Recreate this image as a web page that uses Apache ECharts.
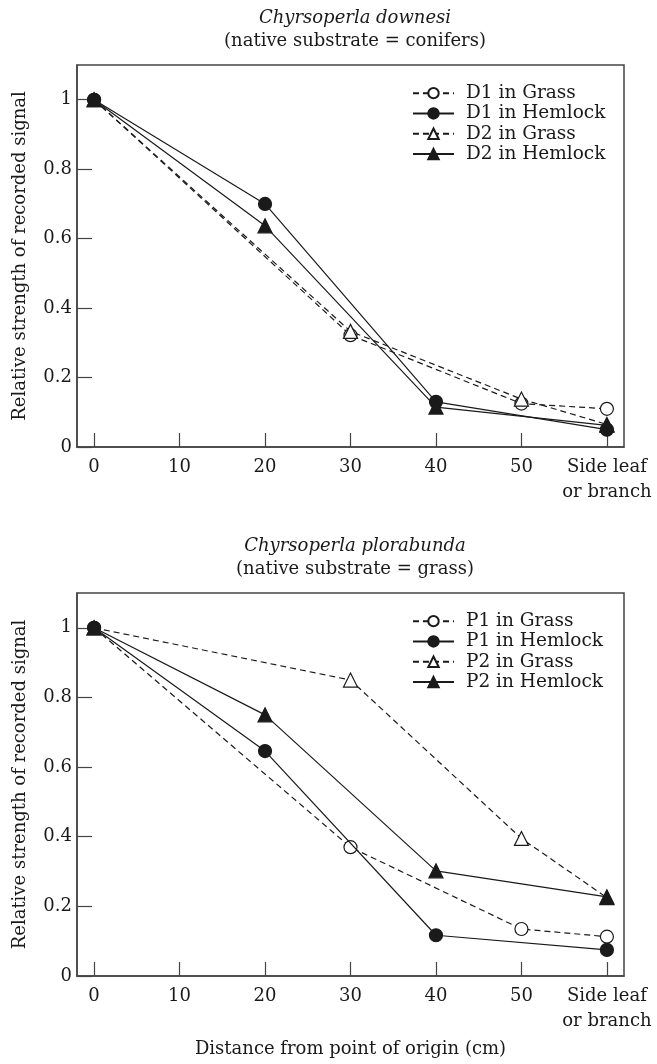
<!DOCTYPE html>
<html>
<head>
<meta charset="utf-8">
<script src="https://cdn.jsdelivr.net/npm/echarts@6/dist/echarts.min.js"></script>
<style>
  html, body { margin: 0; padding: 0; background: #fff; }
  #chart { width: 657px; height: 1064px; }
</style>
</head>
<body>
<div id="chart"></div>
<script>
// x positions (cm); 60 stands for the side leaf / branch
const xPositions = [0, 10, 20, 30, 40, 50, 60];
const xTickLabels = ['0', '10', '20', '30', '40', '50', 'Side leaf\nor branch'];
const yTicks = [0, 0.2, 0.4, 0.6, 0.8, 1];

// top panel: Chyrsoperla downesi
const d1Grass   = [1, null, null, 0.322, null, 0.125, 0.11];
const d1Hemlock = [1, null, 0.70, null, 0.13, null, 0.05];
const d2Grass   = [1, null, null, 0.333, null, 0.138, 0.065];
const d2Hemlock = [1, null, 0.637, null, 0.115, null, 0.062];

// bottom panel: Chyrsoperla plorabunda
const p1Grass   = [1, null, null, 0.37, null, 0.135, 0.113];
const p1Hemlock = [1, null, 0.646, null, 0.117, null, 0.075];
const p2Grass   = [1, null, null, 0.85, null, 0.395, 0.225];
const p2Hemlock = [1, null, 0.75, null, 0.302, null, 0.227];

const FONT = 'DejaVu Serif';
const INK = '#1a1a1a';

const toPairs = (vals) => {
  let out = [];
  for (let i = 0; i < vals.length; i++) {
    if (vals[i] !== null) out.push([xPositions[i], vals[i]]);
  }
  return out;
}

const makeSeries = (name, vals, idx, open, tri, dashed) => {
  return {
    name: name,
    type: 'line',
    xAxisIndex: idx,
    yAxisIndex: idx,
    data: toPairs(vals),
    symbol: tri ? 'triangle' : 'circle',
    symbolSize: tri ? 14 : 13,
    showSymbol: true,
    lineStyle: { color: INK, width: 1.2, type: dashed ? [6, 4] : 'solid' },
    itemStyle: { color: open ? '#fff' : INK, borderColor: INK, borderWidth: 1.2 },
    emphasis: { disabled: true },
    z: open ? 3 : 4
  }
}

const makeXAxis = (idx, withName) => ({
  type: 'value',
  gridIndex: idx,
  min: -2,
  max: 62,
  name: withName ? 'Distance from point of origin (cm)' : '',
  nameLocation: 'middle',
  nameGap: 64,
  nameTextStyle: { fontFamily: FONT, fontSize: 18, color: INK },
  axisLine: { show: true, onZero: false, lineStyle: { color: '#444', width: 1.5 } },
  axisTick: { show: true, inside: true, length: 14, customValues: xPositions, lineStyle: { color: '#444', width: 1.2 } },
  axisLabel: {
    customValues: xPositions,
    formatter: (v) => xTickLabels[xPositions.indexOf(v)],
    fontFamily: FONT, fontSize: 18, color: INK, margin: 8, lineHeight: 25
  },
  splitLine: { show: false }
});

const makeYAxis = (idx) => ({
  type: 'value',
  gridIndex: idx,
  min: 0,
  max: 1.1,
  name: 'Relative strength of recorded signal',
  nameLocation: 'middle',
  nameRotate: 90,
  nameGap: 48,
  nameTextStyle: { fontFamily: FONT, fontSize: 18, color: INK },
  axisLine: { show: true, onZero: false, lineStyle: { color: '#444', width: 1.5 } },
  axisTick: { show: true, inside: true, length: 15, customValues: yTicks, lineStyle: { color: '#444', width: 1.2 } },
  axisLabel: {
    customValues: yTicks,
    formatter: (v) => (v === 0 ? '0' : v === 1 ? '1' : v.toFixed(1)),
    fontFamily: FONT, fontSize: 18, color: INK, margin: 5
  },
  splitLine: { show: false }
});

const makeLegend = (names, top) => ({
  orient: 'vertical',
  left: 407,
  top: top,
  itemWidth: 41,
  itemHeight: 13,
  itemGap: 0,
  data: names,
  selectedMode: false,
  textStyle: { fontFamily: FONT, fontSize: 18.5, color: INK, lineHeight: 20.3, padding: [0, 0, 0, 7] }
});

const chart = echarts.init(document.getElementById('chart'), null, { renderer: 'canvas' });

const option = {
  animation: false,
  backgroundColor: '#fff',
  title: [
    {
      text: 'Chyrsoperla downesi',
      subtext: '(native substrate = conifers)',
      left: 350, top: 4, textAlign: 'center', itemGap: 5,
      textStyle: { fontFamily: FONT, fontSize: 18, fontStyle: 'italic', fontWeight: 'normal', color: INK },
      subtextStyle: { fontFamily: FONT, fontSize: 18, color: INK }
    },
    {
      text: 'Chyrsoperla plorabunda',
      subtext: '(native substrate = grass)',
      left: 350, top: 532, textAlign: 'center', itemGap: 5,
      textStyle: { fontFamily: FONT, fontSize: 18, fontStyle: 'italic', fontWeight: 'normal', color: INK },
      subtextStyle: { fontFamily: FONT, fontSize: 18, color: INK }
    }
  ],
  legend: [
    makeLegend(['D1 in Grass', 'D1 in Hemlock', 'D2 in Grass', 'D2 in Hemlock'], 78),
    makeLegend(['P1 in Grass', 'P1 in Hemlock', 'P2 in Grass', 'P2 in Hemlock'], 606)
  ],
  grid: [
    { left: 77, top: 65, width: 547, height: 382, show: true, borderColor: '#444', borderWidth: 1.5 },
    { left: 77, top: 593, width: 547, height: 383, show: true, borderColor: '#444', borderWidth: 1.5 }
  ],
  xAxis: [makeXAxis(0, false), makeXAxis(1, true)],
  yAxis: [makeYAxis(0), makeYAxis(1)],
  series: [
    makeSeries('D1 in Grass', d1Grass, 0, true, false, true),
    makeSeries('D1 in Hemlock', d1Hemlock, 0, false, false, false),
    makeSeries('D2 in Grass', d2Grass, 0, true, true, true),
    makeSeries('D2 in Hemlock', d2Hemlock, 0, false, true, false),
    makeSeries('P1 in Grass', p1Grass, 1, true, false, true),
    makeSeries('P1 in Hemlock', p1Hemlock, 1, false, false, false),
    makeSeries('P2 in Grass', p2Grass, 1, true, true, true),
    makeSeries('P2 in Hemlock', p2Hemlock, 1, false, true, false)
  ]
};

chart.setOption(option);
</script>
</body>
</html>
